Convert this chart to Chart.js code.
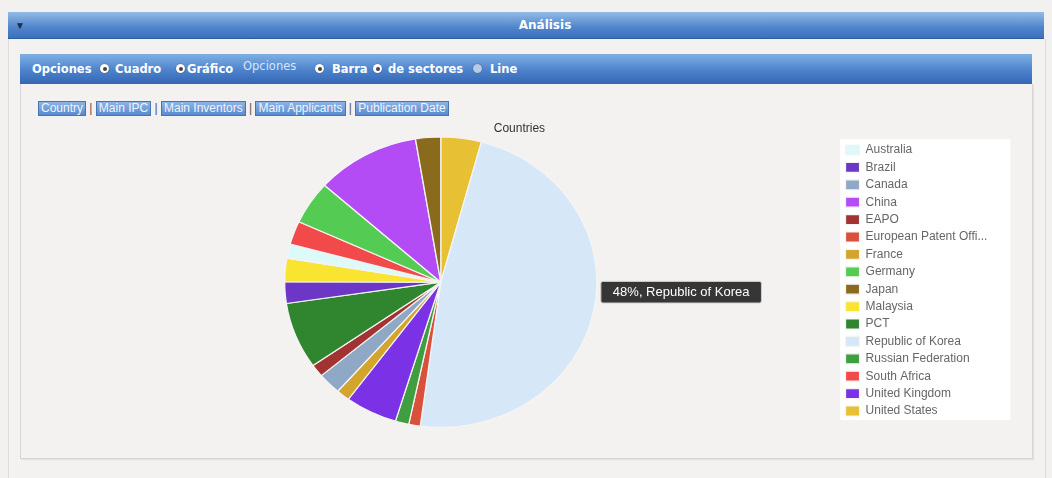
<!DOCTYPE html>
<html>
<head>
<meta charset="utf-8">
<script src="https://cdn.jsdelivr.net/npm/chart.js@4"></script>
<style>
  html, body { margin:0; padding:0; background:#f3f0f0; width:1052px; height:478px; overflow:hidden; font-family:"Liberation Sans", Arial, sans-serif; }
  .hdr { position:absolute; left:8px; top:12px; width:1036px; height:26px; background:linear-gradient(#93bbe6, #4f84cb 60%, #3d70bb); border-bottom:1px solid #2e5d9e; }
  .hdr .t { position:absolute; left:38px; right:0; top:6px; text-align:center; color:#fff; font:bold 12px "DejaVu Sans", sans-serif; }
  .hdr .ic { position:absolute; left:7px; top:8px; color:#1d2d4a; font-size:10px; }
  .outer { position:absolute; left:8px; top:39px; width:1036px; height:445px; border-left:1px solid #e0dcdc; border-right:1px solid #e0dcdc; background:#f4f1f1; }
  .opt { position:absolute; left:20px; top:54px; width:1012px; height:30px; background:linear-gradient(#7fb0e4, #4c82cc 55%, #3466b4); border-bottom:1px solid #2b5a9c; color:#fff; font:bold 11.5px "DejaVu Sans", sans-serif; }
  .opt span { position:absolute; top:8px; white-space:nowrap; }
  .opt .r { width:9px; height:9px; border-radius:50%; background:#fff; top:10px; box-shadow:0 0 1px #335; }
  .opt .r.on::after { content:""; position:absolute; left:2.5px; top:2.5px; width:4px; height:4px; border-radius:50%; background:#444; }
  .opt .r.dis { background:#b8cbe6; }
  .opt .lt { color:#d4e6fb; font-weight:normal; font-size:11.5px; top:5px; }
  .inner { position:absolute; left:20px; top:84px; width:1011px; height:374px; border:1px solid #d9d5d5; border-top:none; background:#f4f1f1; box-shadow:1px 1px 1px #e6e2e2; }
  .btns { position:absolute; left:38px; top:101px; font:12px "Liberation Sans", Arial, sans-serif; color:#555; white-space:nowrap; }
  .btns b { display:inline-block; font-weight:normal; background:linear-gradient(#8db4e4, #5a8ad0); color:#eef4ff; border:1px solid #4a74b0; padding:0 2px; height:13px; line-height:13px; }
  #wrap { position:absolute; left:20px; top:113px; width:1012px; height:345px; }
</style>
</head>
<body>
<div class="outer"></div>
<div class="hdr"><span class="ic">&#9660;</span><div class="t">Análisis</div></div>
<div class="opt">
  <span style="left:12px">Opciones</span><span class="r on" style="left:80px"></span>
  <span style="left:95px">Cuadro</span><span class="r on" style="left:156px"></span>
  <span style="left:167px">Gráfico</span>
  <span class="lt" style="left:223px">Opciones</span><span class="r on" style="left:295px"></span>
  <span style="left:312px">Barra</span><span class="r on" style="left:353px"></span>
  <span style="left:368px">de sectores</span><span class="r dis" style="left:453px"></span>
  <span style="left:470px">Line</span>
</div>
<div class="inner"></div>
<div class="btns"><b>Country</b> | <b>Main IPC</b> | <b>Main Inventors</b> | <b>Main Applicants</b> | <b>Publication Date</b></div>
<div id="wrap"><canvas id="c" width="1012" height="345"></canvas></div>
<script>
// Slice order (clockwise from 12 o'clock)
const categories = ["United States","Republic of Korea","European Patent Office","Russian Federation","United Kingdom","France","Canada","EAPO","PCT","Brazil","Malaysia","Australia","South Africa","Germany","China","Japan"];
const values = [21,240,6,7,27,7,12,7,37,12,13,8,13,24,54,13];
const colors = ["#e8c034","#d6e8f8","#d9503c","#3f9e3f","#7b32e6","#d4a52c","#8ea8c6","#a33232","#2f862f","#6c36c6","#fae432","#def9f9","#f24a4a","#54cc54","#b34cf4","#8a6a1c"];
const chartTitle = "Countries";
const highlighted = "Republic of Korea";

const SX = 1.075; // horizontal stretch of the reference picture
const total = values.reduce((a,b)=>a+b,0);

Chart.Tooltip.positioners.rightEdge = function(elements) {
  if (!elements.length) return false;
  const a = elements[0].element;
  return { x: a.x + a.outerRadius * SX + 4, y: a.y + 10 };
};

const stretch = {
  id:'stretch',
  beforeDatasetsDraw(chart){
    const a = chart.getDatasetMeta(0).data[0];
    const ctx = chart.ctx; ctx.save();
    ctx.translate(a.x, a.y); ctx.scale(SX,1); ctx.translate(-a.x, -a.y);
  },
  afterDatasetsDraw(chart){ chart.ctx.restore(); }
};

const legendBg = {
  id:'legendBg',
  beforeDraw(chart){
    const lg = chart.legend; const hb = lg.legendHitBoxes;
    if (!hb || !hb.length) return;
    const top = Math.min(...hb.map(h=>h.top)) - 5;
    const bot = Math.max(...hb.map(h=>h.top+h.height)) + 3;
    const ctx = chart.ctx; ctx.save();
    ctx.fillStyle = '#ffffff';
    ctx.fillRect(lg.left, top, (lg.right + 13) - lg.left, bot - top);
    ctx.restore();
  }
};

const chart = new Chart(document.getElementById('c'), {
  type:'pie',
  data:{ labels:categories, datasets:[{ data:values, backgroundColor:colors, borderColor:'#f4f4f4', borderWidth:1.2, hoverOffset:0, hoverBorderColor:'#f4f4f4', hoverBackgroundColor:colors }] },
  options:{
    responsive:false, animation:false,
    events:[],
    layout:{ padding:{ left:21.4, right:34.6, top:0, bottom:30 } },
    plugins:{
      title:{ display:true, text:chartTitle, color:'#333', font:{ family:'"Liberation Sans", Arial, sans-serif', size:12, weight:'normal' }, padding:{ top:8, bottom:1 } },
      legend:{
        position:'right',
        title:{ display:true, text:' ', font:{ size:10 }, padding:{ top:8, bottom:0 } },
        labels:{
          boxWidth:14, boxHeight:10, padding:5.4, color:'#666',
          font:{ family:'"Liberation Sans", Arial, sans-serif', size:12 },
          generateLabels(ch){
            const items = Chart.overrides.pie.plugins.legend.labels.generateLabels(ch);
            items.forEach(it=>{ if (it.text.length > 20) it.text = it.text.slice(0,20) + '...'; });
            return items;
          },
          sort:(a,b)=>a.text.localeCompare(b.text)
        }
      },
      tooltip:{
        enabled:true, position:'rightEdge', xAlign:'left', yAlign:'center',
        caretSize:0, caretPadding:0, displayColors:false,
        backgroundColor:'rgba(38,38,38,0.92)', borderColor:'#cfcfcf', borderWidth:1, cornerRadius:2,
        padding:{ top:3, bottom:3, left:12, right:12 },
        bodyColor:'#fff', bodyFont:{ family:'"Liberation Sans", Arial, sans-serif', size:13 },
        callbacks:{
          title:()=>'',
          label:(c)=> Math.round(c.parsed / total * 100) + '%, ' + c.label
        }
      }
    }
  },
  plugins:[legendBg, stretch]
});
const idx = categories.indexOf(highlighted);
const el = chart.getDatasetMeta(0).data[idx];
chart.tooltip.setActiveElements([{datasetIndex:0, index:idx}], {x:el.x, y:el.y});
chart.update();
</script>
</body>
</html>
